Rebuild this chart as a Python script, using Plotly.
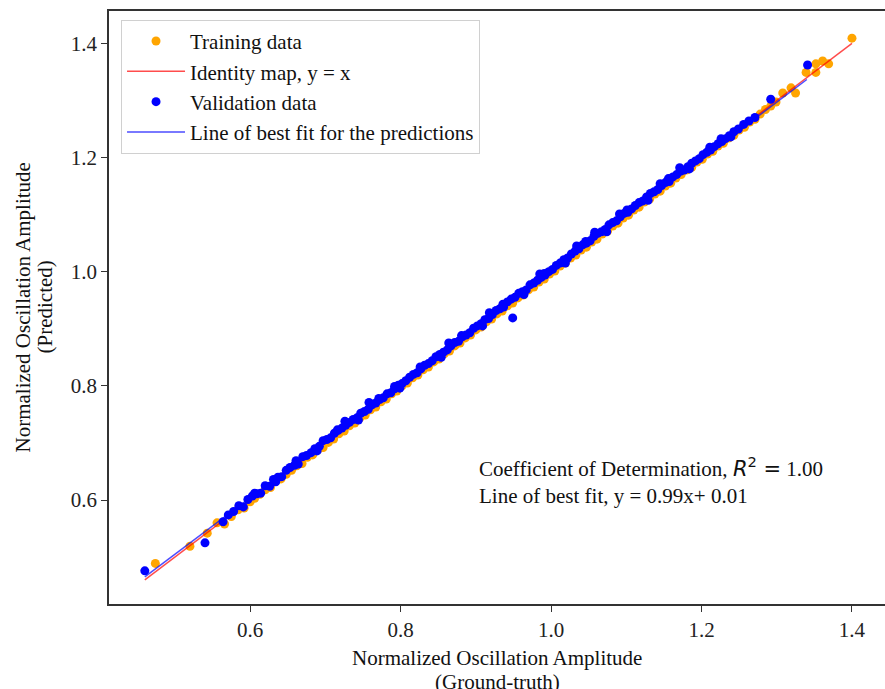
import plotly.graph_objects as go

# ---------------- data ----------------
train_true = [0.474, 0.520, 0.543, 0.556, 0.566, 0.575, 0.584, 0.592, 0.600, 0.606,
              0.613, 0.620, 0.627, 0.634, 0.641, 0.648, 0.655, 0.662, 0.669, 0.676,
              0.683, 0.690, 0.697, 0.704, 0.711, 0.718, 0.725, 0.732, 0.739, 0.746,
              0.753, 0.760, 0.767, 0.774, 0.781, 0.788, 0.795, 0.802, 0.809, 0.816,
              0.823, 0.830, 0.837, 0.844, 0.851, 0.858, 0.865, 0.872, 0.879, 0.886,
              0.893, 0.900, 0.907, 0.914, 0.921, 0.928, 0.935, 0.942, 0.949, 0.956,
              0.963, 0.970, 0.977, 0.984, 0.991, 0.998, 1.005, 1.012, 1.019, 1.026,
              1.033, 1.040, 1.047, 1.054, 1.061, 1.068, 1.075, 1.082, 1.089, 1.096,
              1.103, 1.110, 1.117, 1.124, 1.131, 1.138, 1.145, 1.152, 1.159, 1.166,
              1.173, 1.180, 1.187, 1.194, 1.201, 1.208, 1.215, 1.222, 1.229, 1.236,
              1.243, 1.250, 1.257, 1.264, 1.271, 1.278, 1.285, 1.292, 1.299, 1.308,
              1.319, 1.325, 1.339, 1.352, 1.352, 1.361, 1.369, 1.400]
train_pred = [0.489, 0.519, 0.542, 0.560, 0.558, 0.571, 0.583, 0.586, 0.597, 0.603,
              0.610, 0.618, 0.622, 0.633, 0.637, 0.645, 0.652, 0.660, 0.664, 0.675,
              0.679, 0.688, 0.692, 0.701, 0.707, 0.716, 0.721, 0.730, 0.735, 0.744,
              0.749, 0.758, 0.763, 0.772, 0.777, 0.786, 0.791, 0.800, 0.805, 0.814,
              0.819, 0.828, 0.833, 0.842, 0.847, 0.856, 0.861, 0.870, 0.875, 0.884,
              0.889, 0.898, 0.903, 0.912, 0.917, 0.926, 0.931, 0.940, 0.945, 0.954,
              0.959, 0.968, 0.973, 0.982, 0.987, 0.996, 1.001, 1.010, 1.015, 1.024,
              1.029, 1.038, 1.043, 1.052, 1.057, 1.066, 1.071, 1.080, 1.085, 1.094,
              1.099, 1.108, 1.113, 1.122, 1.127, 1.136, 1.141, 1.150, 1.155, 1.164,
              1.170, 1.178, 1.183, 1.192, 1.197, 1.206, 1.211, 1.220, 1.225, 1.234,
              1.239, 1.248, 1.253, 1.262, 1.267, 1.276, 1.284, 1.290, 1.297, 1.313,
              1.322, 1.313, 1.349, 1.349, 1.364, 1.369, 1.364, 1.409]

val_true = [0.460, 0.540, 0.564, 0.571, 0.578, 0.585, 0.591, 0.597, 0.603, 0.609,
            0.614, 0.620, 0.626, 0.631, 0.637, 0.642, 0.648, 0.653, 0.659, 0.664,
            0.670, 0.675, 0.681, 0.686, 0.692, 0.697, 0.702, 0.707, 0.712, 0.717,
            0.722, 0.727, 0.732, 0.737, 0.742, 0.747, 0.752, 0.757, 0.762, 0.767,
            0.772, 0.777, 0.782, 0.787, 0.792, 0.797, 0.802, 0.807, 0.812, 0.817,
            0.822, 0.827, 0.832, 0.837, 0.842, 0.847, 0.852, 0.857, 0.862, 0.867,
            0.872, 0.877, 0.882, 0.887, 0.892, 0.897, 0.902, 0.907, 0.912, 0.917,
            0.922, 0.927, 0.932, 0.937, 0.942, 0.947, 0.949, 0.952, 0.957, 0.962,
            0.967, 0.972, 0.977, 0.982, 0.987, 0.992, 0.997, 1.002, 1.007, 1.012,
            1.017, 1.022, 1.027, 1.032, 1.037, 1.042, 1.047, 1.052, 1.057, 1.062,
            1.067, 1.072, 1.077, 1.082, 1.087, 1.092, 1.097, 1.102, 1.107, 1.112,
            1.117, 1.122, 1.127, 1.132, 1.137, 1.142, 1.147, 1.152, 1.157, 1.162,
            1.167, 1.172, 1.177, 1.182, 1.187, 1.192, 1.197, 1.202, 1.207, 1.212,
            1.217, 1.222, 1.227, 1.232, 1.237, 1.243, 1.249, 1.256, 1.263, 1.271,
            1.292, 1.341,
            0.606, 0.634, 0.661, 0.689, 0.716, 0.744, 0.771, 0.799, 0.826, 0.854,
            0.881, 0.909, 0.936, 0.964, 0.991, 1.019, 1.046, 1.074, 1.101, 1.129,
            1.156, 1.184, 1.211, 1.239,
            0.726, 0.758, 0.792, 0.864, 0.918, 0.985, 1.034, 1.058, 1.091, 1.145,
            1.171, 1.226]
val_pred = [0.476, 0.525, 0.562, 0.574, 0.580, 0.590, 0.588, 0.601, 0.607, 0.611,
            0.612, 0.625, 0.624, 0.636, 0.640, 0.641, 0.652, 0.657, 0.661, 0.663,
            0.676, 0.678, 0.683, 0.690, 0.694, 0.704, 0.706, 0.709, 0.717, 0.722,
            0.726, 0.731, 0.736, 0.741, 0.744, 0.752, 0.755, 0.759, 0.767, 0.770,
            0.776, 0.779, 0.786, 0.788, 0.795, 0.801, 0.804, 0.809, 0.815, 0.820,
            0.823, 0.830, 0.836, 0.839, 0.844, 0.851, 0.855, 0.859, 0.863, 0.870,
            0.876, 0.878, 0.886, 0.889, 0.893, 0.901, 0.905, 0.909, 0.916, 0.918,
            0.925, 0.932, 0.935, 0.938, 0.947, 0.952, 0.919, 0.955, 0.962, 0.965,
            0.968, 0.977, 0.980, 0.985, 0.990, 0.994, 1.000, 1.004, 1.011, 1.015,
            1.021, 1.024, 1.031, 1.036, 1.040, 1.047, 1.050, 1.054, 1.062, 1.067,
            1.070, 1.074, 1.082, 1.086, 1.089, 1.096, 1.102, 1.104, 1.110, 1.116,
            1.121, 1.124, 1.131, 1.137, 1.140, 1.144, 1.151, 1.156, 1.158, 1.166,
            1.170, 1.176, 1.178, 1.184, 1.190, 1.194, 1.198, 1.205, 1.209, 1.213,
            1.219, 1.224, 1.228, 1.233, 1.238, 1.245, 1.250, 1.258, 1.264, 1.270,
            1.302, 1.362,
            0.612, 0.632, 0.669, 0.686, 0.723, 0.740, 0.778, 0.796, 0.833, 0.850,
            0.888, 0.905, 0.943, 0.960, 0.997, 1.015, 1.053, 1.070, 1.108, 1.125,
            1.163, 1.180, 1.218, 1.236,
            0.738, 0.771, 0.799, 0.875, 0.928, 0.996, 1.045, 1.069, 1.101, 1.154,
            1.182, 1.233]

identity_x = [0.46, 1.40]
identity_y = [0.46, 1.40]
fit_slope, fit_intercept = 0.99, 0.01
fit_x = [0.46, 1.34]
fit_y = [fit_slope * v + fit_intercept for v in fit_x]

tick_vals = [0.6, 0.8, 1.0, 1.2, 1.4]
tick_text = ["0.6", "0.8", "1.0", "1.2", "1.4"]

x_title = ["Normalized Oscillation Amplitude", "(Ground-truth)"]
y_title = ["Normalized Oscillation Amplitude", "(Predicted)"]

FONT = "Liberation Serif"
TXT = "#111"

fig = go.Figure()
fig.add_trace(go.Scatter(x=train_true, y=train_pred, mode="markers", name="Training data",
                         legendgroup="a",
                         marker=dict(color="#FFA500", size=9, line=dict(width=0))))
fig.add_trace(go.Scatter(x=identity_x, y=identity_y, mode="lines", name="Identity map, y = x",
                         legendgroup="b",
                         line=dict(color="rgba(255,0,0,0.7)", width=1.5)))
fig.add_trace(go.Scatter(x=val_true, y=val_pred, mode="markers", name="Validation data",
                         legendgroup="c",
                         marker=dict(color="#0000FF", size=9, line=dict(width=0))))
fig.add_trace(go.Scatter(x=fit_x, y=fit_y, mode="lines", name="Line of best fit for the predictions",
                         legendgroup="d",
                         line=dict(color="rgba(0,0,255,0.7)", width=1.5)))

fig.add_annotation(
    x=0.902, y=0.635, xref="x", yref="y", xanchor="left", yanchor="middle", align="left",
    showarrow=False,
    text=("Coefficient of Determination, <span style='font-family:DejaVu Sans'><i>R</i><sup>2</sup> =</span> 1.00"
          "<br>Line of best fit, y = 0.99x+ 0.01"),
    font=dict(family=FONT, size=21, color=TXT),
)

# axis titles (two lines each)
PW, PH = 776.0, 593.0
for t, ypx in zip(x_title, [658, 682]):
    fig.add_annotation(x=0.5, y=-(ypx - 604) / PH, xref="paper", yref="paper",
                       xanchor="center", yanchor="middle", showarrow=False, text=t,
                       font=dict(family=FONT, size=21, color=TXT))
for t, xpx in zip(y_title, [22, 44]):
    fig.add_annotation(x=-(109 - xpx) / PW, y=0.5, xref="paper", yref="paper",
                       xanchor="center", yanchor="middle", showarrow=False, text=t,
                       textangle=-90, font=dict(family=FONT, size=21, color=TXT))

axis_common = dict(
    showgrid=False, zeroline=False, showline=True, linecolor="#333", linewidth=1.6,
    ticks="outside", ticklen=6, tickwidth=1.4, tickcolor="#333",
    tickvals=tick_vals, ticktext=tick_text,
    tickfont=dict(family=FONT, size=21, color="#222"),
)

fig.update_layout(
    width=885, height=689,
    margin=dict(l=109, r=0, t=11, b=85),
    paper_bgcolor="white", plot_bgcolor="white",
    showlegend=True,
    legend=dict(x=0.0155, y=0.985, xanchor="left", yanchor="top",
                bgcolor="rgba(255,255,255,0.8)", bordercolor="#d0d0d0", borderwidth=1,
                font=dict(family=FONT, size=21, color=TXT),
                tracegroupgap=0, itemwidth=58),
    xaxis=dict(range=[0.4124, 1.4439], mirror=True, **axis_common),
    yaxis=dict(range=[0.4179, 1.4566], mirror=False, **axis_common),
)

fig.write_html("out.html", config={"displayModeBar": False},
               post_script="document.body.style.margin='0px';")
